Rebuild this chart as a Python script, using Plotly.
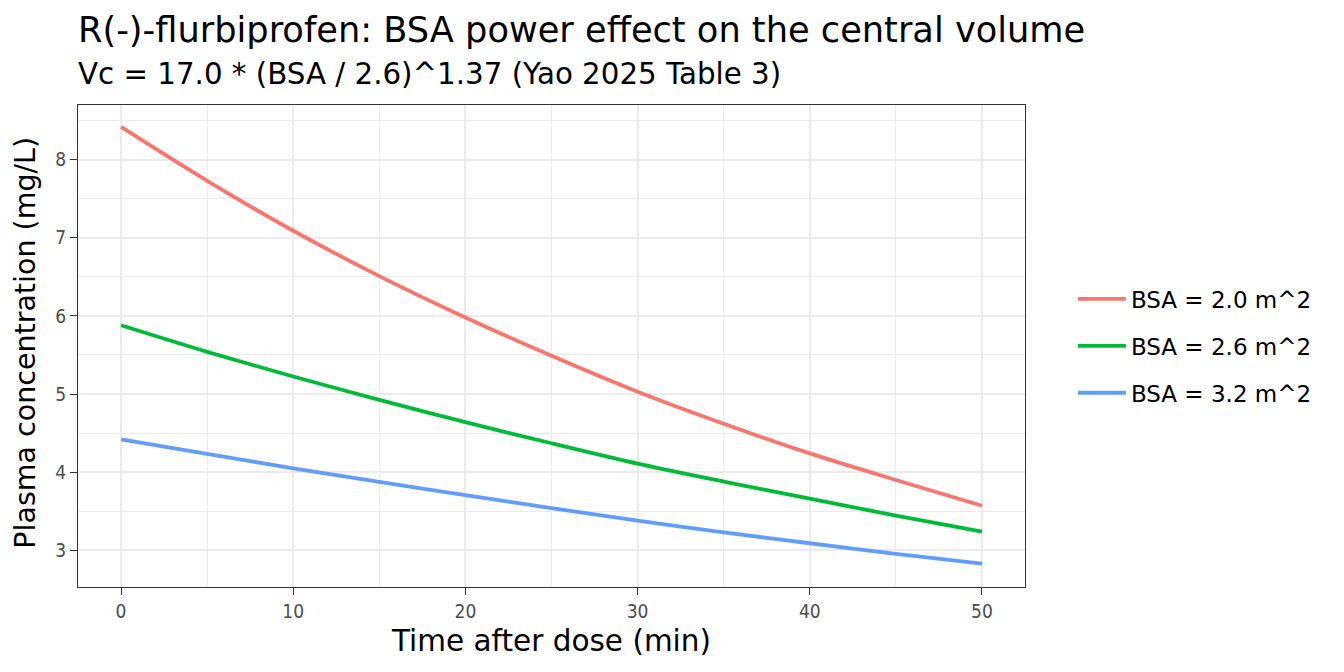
import plotly.graph_objects as go

# time grid (min) and concentrations
time_min = [0, 5, 10, 15, 20, 25, 30, 35, 40, 45, 50]
conc_bsa_20 = [8.42, 7.73, 7.09, 6.51, 5.98, 5.49, 5.03, 4.62, 4.24, 3.90, 3.57]
conc_bsa_26 = [5.88, 5.54, 5.225, 4.925, 4.64, 4.37, 4.11, 3.88, 3.66, 3.445, 3.24]
conc_bsa_32 = [4.42, 4.235, 4.05, 3.875, 3.705, 3.54, 3.38, 3.23, 3.09, 2.955, 2.83]

series_names = ["BSA = 2.0 m^2", "BSA = 2.6 m^2", "BSA = 3.2 m^2"]
series_colors = ["#F8766D", "#00BA38", "#619CFF"]
series_values = [conc_bsa_20, conc_bsa_26, conc_bsa_32]

font_family = "DejaVu Sans"
tick_family = "DejaVu Sans Condensed, DejaVu Sans"

fig = go.Figure()
for name, color, vals in zip(series_names, series_colors, series_values):
    fig.add_trace(go.Scatter(
        x=time_min, y=vals, mode="lines", name=name,
        line=dict(color=color, width=3.8, shape="spline", smoothing=0.8),
        legendgroup=name,
    ))

axis_common = dict(
    showline=True, linecolor="#333333", linewidth=1, mirror=True,
    ticks="outside", ticklen=7, tickcolor="#333333", tickwidth=1.4,
    tickfont=dict(family=tick_family, size=19, color="#4D4D4D"),
    showgrid=True, gridcolor="#EBEBEB", gridwidth=1.5,
    zeroline=False,
)

fig.update_xaxes(
    **axis_common,
    range=[-2.5, 52.5], tickvals=[0, 10, 20, 30, 40, 50],
    minor=dict(tickvals=[5, 15, 25, 35, 45], showgrid=True, gridcolor="#EBEBEB", gridwidth=0.8, ticks=""),
    title=dict(text="Time after dose (min)", font=dict(family=font_family, size=29.5, color="black"), standoff=9),
)
fig.update_yaxes(
    **axis_common,
    range=[2.53, 8.70], tickvals=[3, 4, 5, 6, 7, 8],
    minor=dict(tickvals=[3.5, 4.5, 5.5, 6.5, 7.5, 8.5], showgrid=True, gridcolor="#EBEBEB", gridwidth=0.8, ticks=""),
)

# page body has an 8px margin, so the figure is a little smaller than the window
fig.update_layout(
    width=1336, height=664,
    margin=dict(l=70, r=319, t=97, b=85),
    paper_bgcolor="white", plot_bgcolor="white",
    font=dict(family=font_family, color="black"),
    showlegend=True,
    legend=dict(
        x=1.0506, y=0.5, xanchor="left", yanchor="middle",
        font=dict(family=font_family, size=23, color="black"),
        tracegroupgap=14, itemwidth=48, bgcolor="rgba(0,0,0,0)",
    ),
    annotations=[
        dict(text="R(-)-flurbiprofen: BSA power effect on the central volume",
             xref="paper", yref="paper", x=0, y=1.1566, xanchor="left", yanchor="middle",
             xshift=-2, showarrow=False, font=dict(family=font_family, size=35.2, color="black")),
        dict(text="Vc = 17.0 * (BSA / 2.6)^1.37 (Yao 2025 Table 3)",
             xref="paper", yref="paper", x=0, y=1.0653, xanchor="left", yanchor="middle",
             xshift=-2, showarrow=False, font=dict(family=font_family, size=29.3, color="black")),
        # y axis title placed by hand so it sits as far left as in the reference
        dict(text="Plasma concentration (mg/L)", textangle=-90,
             xref="paper", yref="paper", x=-0.0549, y=0.507, xanchor="center", yanchor="middle",
             showarrow=False, font=dict(family=font_family, size=28.5, color="black")),
    ],
)

fig.write_html("out.html")
